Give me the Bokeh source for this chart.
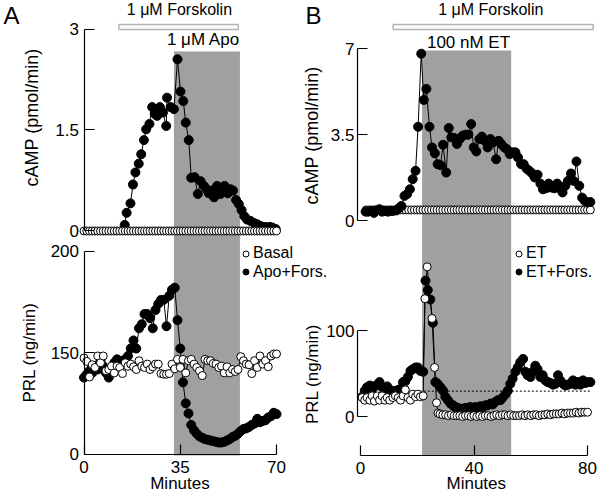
from bokeh.plotting import figure
from bokeh.models import (ColumnDataSource, Range1d, LinearAxis, FixedTicker,
                          BoxAnnotation, Label, Legend, LegendItem, CustomJSTransform)
from bokeh.transform import transform
from bokeh.embed import file_html
from bokeh.resources import INLINE

FONT = "Liberation Sans"

# ---------------- data: panel A ----------------
a_forskolin = [12.7, 56.1]          # minutes
a_apo = [32.7, 56.7]                # minutes (shaded)

a_camp_fors_t = [14.8, 15.5, 16.9, 17.8, 18.7, 19.9, 20.8, 21.8, 22.6, 23.8, 24.8, 25.7, 26.6, 27.6,
                 28.7, 29.9, 30.2, 31.5, 32.7, 34.0, 35.1, 36.1, 37.0, 38.1, 39.0, 40.2, 41.4, 42.4,
                 43.6, 44.6, 45.4, 46.4, 47.3, 48.4, 49.6, 50.3, 51.1, 52.3, 53.3, 54.2, 55.3, 56.3,
                 57.3, 58.3, 59.3, 60.5, 61.8, 63.0, 64.4, 66.0, 67.6, 68.5, 69.7]
a_camp_fors_v = [0.09, 0.27, 0.41, 0.69, 0.87, 1.00, 1.14, 1.35, 1.51, 1.59, 1.84, 1.74, 1.71, 1.84,
                 1.76, 1.56, 1.98, 1.84, 1.81, 2.55, 2.07, 1.93, 1.61, 1.35, 0.79, 0.80, 0.55, 0.74,
                 0.67, 0.62, 0.56, 0.60, 0.50, 0.67, 0.55, 0.60, 0.67, 0.56, 0.62, 0.60, 0.46, 0.40,
                 0.31, 0.22, 0.17, 0.15, 0.12, 0.10, 0.07, 0.06, 0.06, 0.05, 0.03]

a_t = [0, 1, 2, 3, 4, 5, 6, 7, 8, 9, 10, 11, 12, 13, 14, 15, 16, 17, 18, 19, 20, 21, 22, 23, 24,
       25, 26, 27, 28, 29, 30, 31, 32, 33, 34, 35, 36, 37, 38, 39, 40, 41, 42, 43, 44, 45, 46, 47,
       48, 49, 50, 51, 52, 53, 54, 55, 56, 57, 58, 59, 60, 61, 62, 63, 64, 65, 66, 67, 68, 69, 70]
a_camp_basal = [0.0, 0.0, 0.0, 0.0, 0.0, 0.0, 0.0, 0.0, 0.0, 0.0, 0.0, 0.0, 0.0, 0.0, 0.0, 0.0,
                0.0, 0.0, 0.0, 0.0, 0.0, 0.0, 0.0, 0.0, 0.0, 0.0, 0.0, 0.0, 0.0, 0.0, 0.0, 0.0,
                0.0, 0.0, 0.0, 0.0, 0.0, 0.0, 0.0, 0.0, 0.0, 0.0, 0.0, 0.0, 0.0, 0.0, 0.0, 0.0,
                0.0, 0.0, 0.0, 0.0, 0.0, 0.0, 0.0, 0.0, 0.0, 0.0, 0.0, 0.0, 0.0, 0.0, 0.0, 0.0,
                0.0, 0.0, 0.0, 0.0, 0.0, 0.0, 0.0]
a_prl_fors = [113, 118, 123, 120, 130, 125, 138, 130, 120, 113, 128, 135, 140, 130, 138, 140, 145,
              152, 156, 152, 162, 164, 169, 169, 167, 162, 171, 174, 176, 176, 163, 178, 181, 182,
              166, 152, 106, 75, 60, 43, 35, 30, 26, 24, 22, 21, 20, 19, 18, 17, 17, 18, 20, 22,
              25, 27, 30, 34, 37, 38, 40, 43, 45, 52, 47, 49, 50, 54, 56, 61, 59]
a_prl_basal = [142, 137, 114, 132, 128, 145, 135, 145, 123, 125, 130, 120, 130, 128, 119, 135, 130,
               133, 129, 125, 138, 130, 128, 133, 125, 129, 133, 133, 119, 118, 118, 119, 133, 126,
               140, 128, 140, 120, 138, 140, 133, 128, 123, 116, 140, 138, 138, 134, 133, 128, 130,
               120, 129, 120, 125, 122, 125, 144, 138, 133, 132, 119, 138, 128, 145, 133, 138, 129,
               145, 148, 148]

# ---------------- data: panel B ----------------
b_forskolin = [11.5, 82.0]
b_et = [21.7, 53.1]

b_camp_fors_t = [1.8, 2.7, 3.8, 4.7, 5.6, 6.7, 7.6, 8.6, 9.6, 10.6, 11.5, 12.6, 13.5, 14.4, 15.5,
                 16.4, 17.4, 18.4, 19.4, 20.3, 21.4, 22.3, 23.2, 24.3, 25.2, 26.2, 27.2, 28.2, 29.1,
                 30.2, 31.1, 32.0, 33.1, 34.0, 35.0, 36.0, 37.0, 38.0, 39.0, 39.9, 40.8, 41.9, 42.8,
                 43.8, 44.8, 45.8, 46.7, 47.8, 48.7, 49.6, 50.7, 51.6, 52.6, 53.6, 54.6, 55.5, 56.6,
                 57.5, 58.5, 59.5, 60.5, 61.4, 62.4, 63.4, 64.3, 65.4, 66.3, 67.3, 68.3, 69.3, 70.2,
                 71.2, 72.2, 73.1, 74.2, 75.1, 76.1, 77.1, 78.1, 79.0, 80.0, 81.0]
b_camp_fors_v = [0.38, 0.38, 0.41, 0.33, 0.43, 0.48, 0.38, 0.41, 0.38, 0.41, 0.41, 0.43, 0.52, 0.61,
                 1.02, 1.09, 1.29, 1.70, 2.04, 3.83, 6.80, 4.92, 5.37, 3.83, 2.99, 2.75, 2.31, 2.27,
                 3.10, 1.97, 3.78, 3.40, 3.37, 3.13, 3.33, 3.47, 3.51, 3.51, 3.94, 2.99, 2.83, 3.33,
                 3.43, 3.26, 2.99, 3.33, 3.19, 2.51, 3.26, 3.13, 2.99, 2.92, 2.72, 2.79, 2.79, 2.58,
                 2.31, 2.31, 2.13, 2.04, 1.93, 1.77, 1.88, 1.52, 1.29, 1.33, 1.52, 1.36, 1.33, 1.52,
                 1.33, 1.16, 1.43, 1.63, 1.93, 1.63, 2.42, 1.43, 0.95, 0.82, 0.75, 0.77]

b_camp_et_t = [2, 3, 4, 5, 6, 7, 8, 9, 10, 11, 12, 13, 14, 15, 16, 17, 18, 19, 20, 21, 22, 23, 24,
               25, 26, 27, 28, 29, 30, 31, 32, 33, 34, 35, 36, 37, 38, 39, 40, 41, 42, 43, 44, 45,
               46, 47, 48, 49, 50, 51, 52, 53, 54, 55, 56, 57, 58, 59, 60, 61, 62, 63, 64, 65, 66,
               67, 68, 69, 70, 71, 72, 73, 74, 75, 76, 77, 78, 79, 80, 81]
b_camp_et_v = [0.45, 0.45, 0.45, 0.45, 0.45, 0.45, 0.45, 0.45, 0.45, 0.45, 0.45, 0.45, 0.45, 0.45,
               0.45, 0.45, 0.45, 0.45, 0.45, 0.45, 0.45, 0.45, 0.45, 0.45, 0.45, 0.45, 0.45, 0.45,
               0.45, 0.45, 0.45, 0.45, 0.45, 0.45, 0.45, 0.45, 0.45, 0.45, 0.45, 0.45, 0.45, 0.45,
               0.45, 0.45, 0.45, 0.45, 0.45, 0.45, 0.45, 0.45, 0.45, 0.45, 0.45, 0.45, 0.45, 0.45,
               0.45, 0.45, 0.45, 0.45, 0.45, 0.45, 0.45, 0.45, 0.45, 0.45, 0.45, 0.45, 0.45, 0.45,
               0.45, 0.45, 0.45, 0.45, 0.45, 0.45, 0.45, 0.45, 0.45, 0.45]

b_prl_fors_t = [0.6, 1.5, 2.3, 3.3, 4.1, 4.9, 5.9, 6.7, 7.6, 8.6, 9.4, 10.3, 11.4, 12.3, 13.3, 14.1,
                15.0, 15.8, 16.7, 17.6, 18.4, 19.4, 20.2, 21.1, 22.1, 22.9, 23.7, 24.6, 25.5, 26.4,
                27.2, 28.2, 29.1, 29.9, 30.8, 31.7, 32.6, 33.5, 34.3, 35.2, 36.0, 37.0, 37.8, 38.7,
                39.6, 40.5, 41.3, 42.3, 43.2, 44.0, 44.8, 45.8, 46.6, 47.5, 48.4, 49.3, 50.1, 51.1,
                51.9, 52.8, 53.6, 54.6, 55.4, 56.3, 57.3, 58.1, 58.9, 59.9, 60.7, 61.6, 62.4, 63.4,
                64.2, 65.1, 66.0, 66.9, 67.8, 68.7, 69.6, 70.4, 71.4, 72.2, 73.1, 73.9, 74.9, 75.7,
                76.6, 77.5, 78.4, 79.2, 80.0, 81.0]
b_prl_fors_v = [23, 30, 34, 36, 32, 35, 37, 40, 34, 32, 35, 28, 30, 29, 31, 32, 40, 41, 46, 53, 55,
                57, 57, 53, 52, 158, 147, 136, 109, 40, 38, 34, 30, 23, 19, 15, 13, 11, 10, 9, 9,
                10, 10, 11, 9, 11, 10, 12, 11, 13, 13, 15, 14, 17, 19, 19, 22, 26, 30, 38, 44, 52,
                57, 63, 67, 52, 48, 46, 52, 59, 55, 46, 48, 42, 40, 39, 37, 38, 48, 42, 38, 36, 37,
                38, 42, 37, 40, 37, 42, 39, 40, 40]

b_prl_et_t = [0.6, 1.5, 2.3, 3.3, 4.1, 4.9, 5.9, 6.7, 7.6, 8.6, 9.4, 10.3, 11.4, 12.3, 13.3, 14.1,
              15.0, 15.8, 16.7, 17.6, 18.4, 19.4, 20.2, 21.1, 22.1, 22.7, 23.5, 25.2, 26.1, 26.8,
              27.3, 28, 29, 30, 31, 32, 33, 34, 35, 36, 37, 38, 39, 40, 41, 42, 43, 44, 45, 46, 47,
              48, 49, 50, 51, 52, 53, 54, 55, 56, 57, 58, 59, 60, 61, 62, 63, 64, 65, 66, 67, 68,
              69, 70, 71, 72, 73, 74, 75, 76, 77, 78, 79, 80]
b_prl_et_v = [22, 19, 22, 19, 24, 18, 24, 19, 24, 19, 22, 19, 22, 24, 22, 19, 24, 31, 22, 19, 26,
              23, 26, 23, 24, 137, 174, 114, 57, 16, 4, 3, 2, 2, 1, 2, 1, 1, 1, 0, 1, 1, 0, 1, 0,
              1, 0, 1, 1, 0, 1, 2, 1, 2, 2, 1, 2, 1, 1, 1, 2, 1, 2, 1, 2, 2, 1, 2, 2, 3, 2, 3, 3,
              3, 4, 3, 4, 4, 4, 5, 4, 5, 5, 5]

b_prl_ref_t = [19.5, 81.0]
b_prl_ref_v = [29.5, 29.5]

# ---------------- one canvas, several coordinate systems ----------------
SHADE = "#a0a0a0"
TICK_SIZE = "17px"

p = figure(width=601, height=493, output_backend="svg", toolbar_location=None,
           x_range=Range1d(-30.364, 188.182), y_range=Range1d(-3.899, 3.4234),
           x_axis_type=None, y_axis_type=None, min_border=0,
           min_border_left=0, min_border_right=0, min_border_top=0, min_border_bottom=0)
p.outline_line_color = None
p.extra_x_ranges = {"B": Range1d(-126.87, 84.93)}
p.extra_y_ranges = {"a_prl": Range1d(-38.95, 447.24),
                    "b_camp": Range1d(-11.077, 8.963),
                    "b_prl": Range1d(-89.53, 483.72)}

AX = dict(x_range_name="default", y_range_name="default")
APRL = dict(x_range_name="default", y_range_name="a_prl")
BCAMP = dict(x_range_name="B", y_range_name="b_camp")
BPRL = dict(x_range_name="B", y_range_name="b_prl")


def add_axis(side, ticks, bounds, loc, standoff, rn, overrides=None):
    ax = LinearAxis(ticker=FixedTicker(ticks=ticks, minor_ticks=[]), bounds=bounds,
                    fixed_location=loc,
                    major_tick_in=10, major_tick_out=0, minor_tick_in=0, minor_tick_out=0,
                    axis_line_width=1.2, major_tick_line_width=1.2,
                    axis_line_color="black", major_tick_line_color="black",
                    major_label_standoff=standoff, major_label_text_font=FONT,
                    major_label_text_font_size=TICK_SIZE, major_label_text_color="black",
                    **rn)
    if overrides:
        ax.major_label_overrides = overrides
    p.add_layout(ax, side)


def add_text(x, y, s, rn, size="17px", align="center", baseline="alphabetic", angle=0):
    p.add_layout(Label(x=x, y=y, text=s, text_font=FONT, text_font_size=size,
                       text_align=align, text_baseline=baseline, angle=angle,
                       angle_units="deg", text_color="black", **rn))


def series(t, v, filled, size, rn, ytr=None):
    src = ColumnDataSource(dict(t=t, v=v))
    y = transform("v", ytr) if ytr is not None else "v"
    p.line(x="t", y=y, source=src, line_color="black", line_width=1, **rn)
    return p.scatter(x="t", y=y, source=src, marker="circle", size=size,
                     fill_color="black" if filled else "white", line_color="black",
                     line_width=1, **rn)


def shade(rng, top, bottom, rn):
    p.add_layout(BoxAnnotation(left=rng[0], right=rng[1], top=top, bottom=bottom,
                               fill_color=SHADE, fill_alpha=1, line_color=None,
                               level="underlay", **rn))


def bar(rng, bottom, top, rn):
    p.add_layout(BoxAnnotation(left=rng[0], right=rng[1], bottom=bottom, top=top,
                               fill_color="white", fill_alpha=1, line_color="black",
                               line_width=1.5, **rn))


def legend_entry(label, renderer, loc):
    p.add_layout(Legend(items=[LegendItem(label=label, renderers=[renderer])],
                        location=loc, orientation="vertical", glyph_width=15, glyph_height=17,
                        label_standoff=0, spacing=0, padding=0, margin=0,
                        border_line_color=None, background_fill_alpha=0,
                        label_text_font=FONT, label_text_font_size="16px",
                        label_text_color="black", label_height=16))


# PRL axis of panel A is broken: 0-150 fills the lower half, 150-200 the upper half
prl_break = CustomJSTransform(
    func="return x <= 150 ? x * 100 / 150 : 100 + (x - 150) * 2;",
    v_func="return Array.from(xs, (x) => x <= 150 ? x * 100 / 150 : 100 + (x - 150) * 2);")

# ---------------- panel A ----------------
shade(a_apo, 396.9, -1.5, APRL)
bar(a_forskolin, 2.993, 3.067, AX)
series(a_camp_fors_t, a_camp_fors_v, True, 9, AX)
series(a_t, a_camp_basal, False, 8, AX)
r_a_fp = series(a_t, a_prl_fors, True, 9, APRL, prl_break)
r_a_bp = series(a_t, a_prl_basal, False, 8, APRL, prl_break)

add_axis("left", [0, 1.5, 3], (0, 3), 0, 5, AX, {0: "0", 1.5: "1.5", 3: "3"})
add_axis("left", [0, 100, 200], (0, 200), 0, 5, APRL, {0: "0", 100: "150", 200: "200"})
add_axis("below", [0, 35, 70], (0, 70), -0.5, 6, APRL)

add_text(34.7, 3.290, "1 \u03bcM Forskolin", AX, size="16px")
add_text(43.45, 2.840, "1 \u03bcM Apo", AX)
add_text(-29.27, 3.2007, "A", AX, size="24px", align="left")
add_text(-18.84, 1.686, "cAMP (pmol/min)", AX, size="18px", baseline="middle", angle=90)
add_text(-20.0, 100.1, "PRL (ng/min)", APRL, baseline="middle", angle=90)
add_text(34.9, -29.09, "Minutes", APRL)
legend_entry("Basal", r_a_bp, (238, 231))
legend_entry("Apo+Fors.", r_a_fp, (238, 212.5))

# ---------------- panel B ----------------
shade(b_et, 425.6, -45.3, BPRL)
bar(b_forskolin, 7.785, 7.988, BCAMP)
series(b_camp_et_t, b_camp_et_v, False, 8, BCAMP)
series(b_camp_fors_t, b_camp_fors_v, True, 9, BCAMP)
p.line(x=b_prl_ref_t, y=b_prl_ref_v, line_color="black", line_width=1, line_dash="2 2", **BPRL)
r_b_fp = series(b_prl_fors_t, b_prl_fors_v, True, 9, BPRL)
r_b_ep = series(b_prl_et_t, b_prl_et_v, False, 8, BPRL)

add_axis("left", [0, 3.5, 7], (0, 7), -1.057, 3, BCAMP, {0: "0", 3.5: "3.5", 7: "7"})
add_axis("left", [0, 100], (0, 100), -1.057, 3, BPRL)
add_axis("below", [0, 40, 80], (0, 80), -45.9, 6, BPRL)

add_text(45.9, 8.598, "1 \u03bcM Forskolin", BCAMP, size="16px")
add_text(38.06, 7.268, "100 nM ET", BCAMP)
add_text(-19.38, 8.354, "B", BCAMP, size="24px", align="left")
add_text(-16.92, 3.476, "cAMP (pmol/min)", BCAMP, size="18px", baseline="middle", angle=90)
add_text(-16.92, 49.4, "PRL (ng/min)", BPRL, baseline="middle", angle=90)
add_text(40.8, -77.9, "Minutes", BPRL)
legend_entry("ET", r_b_ep, (511, 231))
legend_entry("ET+Fors.", r_b_fp, (511, 212.5))

open("out.html", "w").write(file_html(p, INLINE))
